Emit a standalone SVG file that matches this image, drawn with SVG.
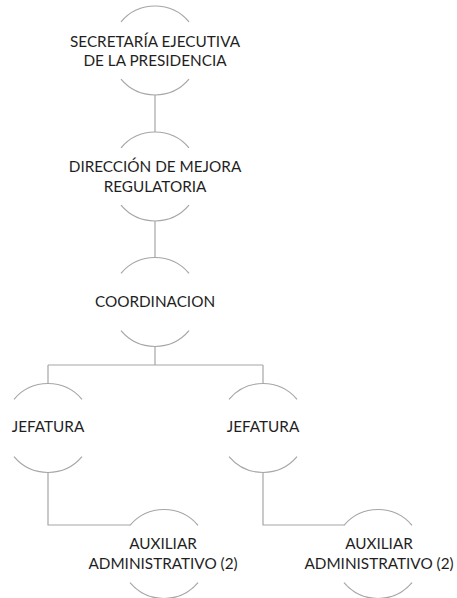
<svg xmlns="http://www.w3.org/2000/svg" width="457" height="598" viewBox="0 0 457 598">
<style>
.arc{fill:none;stroke:#a6a6a6;stroke-width:1.2}
.conn{fill:none;stroke:#a6a6a6;stroke-width:1.2}
.t{font-family:Lato,"Liberation Sans",sans-serif;font-size:15.3px;fill:#1f1f1f;text-anchor:middle}
</style>
<defs>
<g id="ring">
<path class="arc" d="M-34,-28.7 A44.5,44.5 0 0 1 34,-28.7"/>
<path class="arc" d="M-34,28.7 A44.5,44.5 0 0 0 34,28.7"/>
</g>
</defs>
<rect width="457" height="598" fill="#ffffff"/>
<g id="connectors">
<path class="conn" d="M155,95 V132"/>
<path class="conn" d="M155,221 V257.5"/>
<path class="conn" d="M155,346.5 V365 M48,365 H263 M48,365 V383.5 M263,365 V383.5"/>
<path class="conn" d="M48,472.5 V525 H130"/>
<path class="conn" d="M263,472.5 V525 H344"/>
</g>
<g id="n1" transform="translate(155,50.5)">
<use href="#ring"/>
<text class="t" y="-4">SECRETARÍA EJECUTIVA</text>
<text class="t" y="15">DE LA PRESIDENCIA</text>
</g>
<g id="n2" transform="translate(155,176.5)">
<use href="#ring"/>
<text class="t" y="-5">DIRECCIÓN DE MEJORA</text>
<text class="t" y="15">REGULATORIA</text>
</g>
<g id="n3" transform="translate(155,302)">
<use href="#ring"/>
<text class="t" y="5">COORDINACION</text>
</g>
<g id="n4" transform="translate(48,428)">
<use href="#ring"/>
<text class="t" y="4">JEFATURA</text>
</g>
<g id="n5" transform="translate(263,428)">
<use href="#ring"/>
<text class="t" y="4">JEFATURA</text>
</g>
<g id="n6" transform="translate(164,554)">
<use href="#ring"/>
<text class="t" x="-1" y="-5.5">AUXILIAR</text>
<text class="t" x="-1" y="14.5">ADMINISTRATIVO (2)</text>
</g>
<g id="n7" transform="translate(378,554)">
<use href="#ring"/>
<text class="t" x="1" y="-5.5">AUXILIAR</text>
<text class="t" x="1" y="14.5">ADMINISTRATIVO (2)</text>
</g>
</svg>
